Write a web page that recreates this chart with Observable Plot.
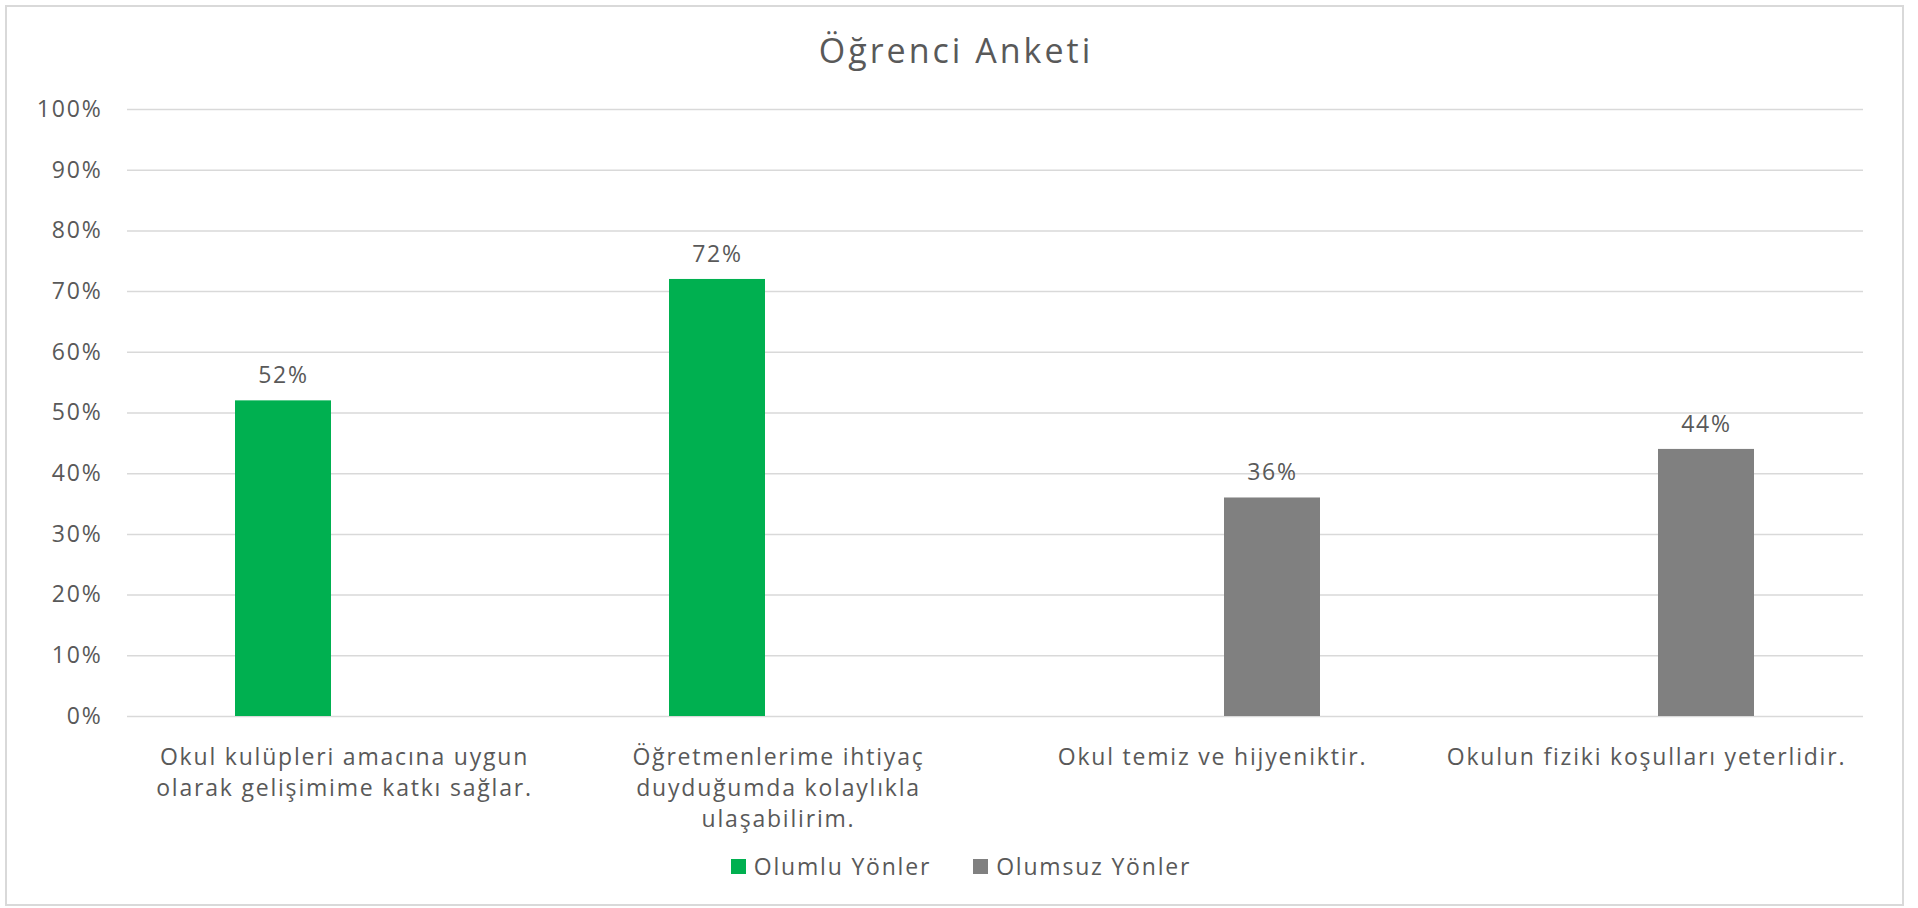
<!DOCTYPE html>
<html>
<head>
<meta charset="utf-8">
<script src="https://cdn.jsdelivr.net/npm/d3@7"></script>
<script src="https://cdn.jsdelivr.net/npm/@observablehq/plot@0.6"></script>
<style>
  html, body { margin: 0; padding: 0; background: #fff; }
  body { width: 1918px; height: 908px; position: relative; overflow: hidden; font-family: "Open Sans", sans-serif; color: #595959; }
  #frame { position: absolute; left: 5px; top: 5px; width: 1899px; height: 901px; box-sizing: border-box; border: 2px solid #d9d9d9; }
  #title { position: absolute; left: 0; top: 33px; width: 1912px; text-align: center; font-size: 34px; line-height: 34px; letter-spacing: 3px; color: #595959; }
  #chart { position: absolute; left: 0; top: 80px; }
  #legend { position: absolute; left: 0; top: 851px; width: 1918px; padding-left: 4px; box-sizing: border-box; height: 30px; display: flex; justify-content: center; align-items: center; gap: 42px; font-size: 23px; line-height: 30px; letter-spacing: 1.8px; }
  .item { display: flex; align-items: center; gap: 8px; }
  .sw { width: 15px; height: 15px; display: inline-block; }
</style>
</head>
<body>
<div id="frame"></div>
<div id="title">Öğrenci Anketi</div>
<div id="chart"></div>
<div id="legend"></div>
<script>
const categories = [
  "Okul kulüpleri amacına uygun olarak gelişimime katkı sağlar.",
  "Öğretmenlerime ihtiyaç duyduğumda kolaylıkla ulaşabilirim.",
  "Okul temiz ve hijyeniktir.",
  "Okulun fiziki koşulları yeterlidir."
];
const categoryLabels = [
  "Okul kulüpleri amacına uygun\nolarak gelişimime katkı sağlar.",
  "Öğretmenlerime ihtiyaç\nduyduğumda kolaylıkla\nulaşabilirim.",
  "Okul temiz ve hijyeniktir.",
  "Okulun fiziki koşulları yeterlidir."
];
const series = ["Olumlu Yönler", "Olumsuz Yönler"];
const olumluValues = [0.52, 0.72, null, null];
const olumsuzValues = [null, null, 0.36, 0.44];
const seriesColors = ["#00B050", "#808080"];
const yTicks = [0, 0.1, 0.2, 0.3, 0.4, 0.5, 0.6, 0.7, 0.8, 0.9, 1];

const rows = categories.flatMap((c, i) => [
  {category: c, series: series[0], value: olumluValues[i]},
  {category: c, series: series[1], value: olumsuzValues[i]}
]).filter(d => d.value != null);

const pct = d3.format(".0%");

const chart = Plot.plot({
  width: 1918,
  height: 775,
  marginLeft: 126,
  marginRight: 54,
  marginTop: 29,
  marginBottom: 139,
  style: {fontFamily: "'Open Sans', sans-serif", fontSize: "23px", color: "#595959", letterSpacing: "1.8px", background: "transparent"},
  fx: {domain: categories, padding: 0, label: null},
  x: {domain: series, paddingInner: 0.205, paddingOuter: 0.883, axis: null},
  y: {domain: [0, 1]},
  color: {domain: series, range: seriesColors},
  marks: [
    Plot.gridY(yTicks, {stroke: "#d9d9d9", strokeOpacity: 1, strokeWidth: 1.5}),
    Plot.axisY({ticks: yTicks, tickFormat: pct, tickSize: 0, tickPadding: 25, fontSize: 23, label: null}),
    Plot.axisFx({anchor: "bottom", tickSize: 0, tickPadding: 27, fontSize: 23, lineHeight: 1.34, label: null,
      tickFormat: c => categoryLabels[categories.indexOf(c)]}),
    Plot.barY(rows, {fx: "category", x: "series", y: "value", fill: "series"}),
    Plot.text(rows, {fx: "category", x: "series", y: "value", text: d => pct(d.value), dy: -25, fontSize: 23, fill: "#595959"})
  ]
});
document.getElementById("chart").appendChild(chart);

const legend = document.getElementById("legend");
series.forEach((s, i) => {
  const item = document.createElement("div");
  item.className = "item";
  const sw = document.createElement("span");
  sw.className = "sw";
  sw.style.background = seriesColors[i];
  const t = document.createElement("span");
  t.textContent = s;
  item.appendChild(sw);
  item.appendChild(t);
  legend.appendChild(item);
});
</script>
</body>
</html>
